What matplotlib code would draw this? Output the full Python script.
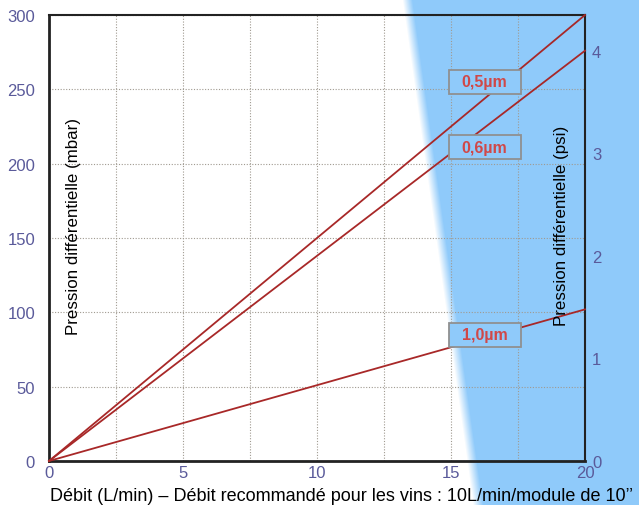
import numpy as np
import matplotlib
matplotlib.use("Agg")
import matplotlib.pyplot as plt
from matplotlib.patches import Rectangle
from matplotlib.transforms import ScaledTranslation

plt.rcParams['font.family'] = ['Liberation Sans', 'DejaVu Sans']

# Data
flow = [0, 20]
series_names = ["0,5µm", "0,6µm", "1,0µm"]
series_values = [[0, 300], [0, 276], [0, 102]]
label_pos_x = [16.25, 16.25, 16.25]
label_pos_y = [255, 211, 85]
x_ticks = [0, 5, 10, 15, 20]
y_ticks = [0, 50, 100, 150, 200, 250, 300]
psi_ticks = [0, 1, 2, 3, 4]
MBAR_PER_PSI = 68.9476

W, H = 639, 506
fig = plt.figure(figsize=(W / 100, H / 100), dpi=100)
fig.patch.set_facecolor('white')

# background: white region left, blue region right with a soft edge
blue = np.array([0x8F, 0xCA, 0xFA]) / 255.0
bg = fig.add_axes([0, 0, 1, 1], zorder=0)
yy, xx = np.mgrid[0:H, 0:W]
boundary = 402 + 0.14 * yy
t = np.clip((xx - boundary) / 10.0, 0, 1)
img = np.ones((H, W, 3)) * (1 - t[..., None]) + blue * t[..., None]
bg.imshow(img, extent=[0, W, H, 0], aspect='auto', interpolation='bilinear')
bg.set_axis_off()

ax = fig.add_axes([49 / W, 1 - 462 / H, (585 - 49) / W, (462 - 16) / H], zorder=1)
ax.set_facecolor('none')
ax.set_xlim(0, 20)
ax.set_ylim(0, 300)

ax.set_xticks(x_ticks)
ax.set_xticks(np.arange(0, 20.1, 2.5), minor=True)
ax.set_yticks(y_ticks)
ax.grid(True, which='both', axis='x', color='#a09a90', linestyle=(0, (1, 1.5)), linewidth=0.8)
ax.grid(True, which='major', axis='y', color='#a09a90', linestyle=(0, (1, 1.5)), linewidth=0.8)
ax.tick_params(axis='both', which='both', length=0, labelsize=12, colors='#5a5a9a')
ax.tick_params(axis='x', pad=3)
ax.tick_params(axis='y', pad=10)

for s in ['left', 'bottom']:
    ax.spines[s].set_linewidth(2.0)
    ax.spines[s].set_color('#222222')
for s in ['top', 'right']:
    ax.spines[s].set_linewidth(1.5)
    ax.spines[s].set_color('#222222')

line_color = '#a82828'
for name, vals, lx, ly in zip(series_names, series_values, label_pos_x, label_pos_y):
    ax.plot(flow, vals, color=line_color, linewidth=1.3, zorder=3, clip_on=False)
    tr = fig.dpi_scale_trans + ScaledTranslation(lx, ly, ax.transData)
    ax.add_patch(Rectangle((-0.36, -0.12), 0.72, 0.24, transform=tr, facecolor=blue,
                           edgecolor='#909090', linewidth=1.3, zorder=4, clip_on=False))
    ax.text(lx, ly, name, ha='center', va='center', fontsize=11.5, color='#d04848',
            fontweight='bold', zorder=5)

# right psi axis
ax2 = ax.twinx()
ax2.set_ylim(0, 300 / MBAR_PER_PSI)
ax2.set_yticks(psi_ticks)
ax2.tick_params(axis='y', length=0, labelsize=12, colors='#5a5a9a', pad=5)
for s in ax2.spines.values():
    s.set_visible(False)

ax.text(0.0448, 0.529, "Pression différentielle (mbar)", transform=ax.transAxes, rotation=90,
        ha='center', va='center', fontsize=12.2, color='black')
ax.text(0.957, 0.529, "Pression différentielle (psi)", transform=ax.transAxes, rotation=90,
        ha='center', va='center', fontsize=12.2, color='black')

fig.text(342 / W, 1 - 497 / H, "Débit (L/min) – Débit recommandé pour les vins : 10L/min/module de 10’’",
         ha='center', va='center', fontsize=13, color='black')

fig.savefig("out.png", dpi=100)
